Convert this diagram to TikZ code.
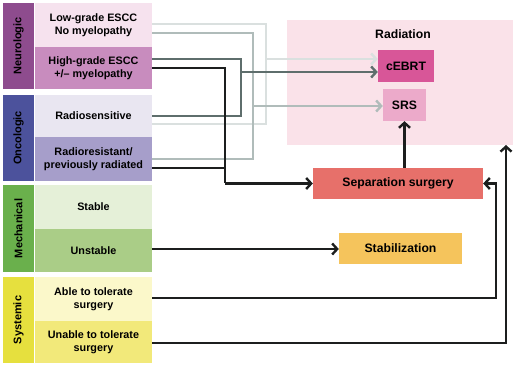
\documentclass[tikz,border=0pt]{standalone}
\usepackage{fontspec}
\setmainfont{Liberation Sans}
\usetikzlibrary{arrows.meta}
\definecolor{neuC}{RGB}{142,76,142}
\definecolor{neuA}{RGB}{246,226,238}
\definecolor{neuB}{RGB}{200,140,190}
\definecolor{oncC}{RGB}{76,82,156}
\definecolor{oncA}{RGB}{233,230,241}
\definecolor{oncB}{RGB}{166,158,202}
\definecolor{mecC}{RGB}{106,176,76}
\definecolor{mecA}{RGB}{229,240,216}
\definecolor{mecB}{RGB}{170,205,135}
\definecolor{sysC}{RGB}{230,224,62}
\definecolor{sysA}{RGB}{251,248,202}
\definecolor{sysB}{RGB}{242,233,122}
\definecolor{radBg}{RGB}{250,226,233}
\definecolor{cebC}{RGB}{216,86,152}
\definecolor{srsC}{RGB}{236,170,202}
\definecolor{sepC}{RGB}{231,112,106}
\definecolor{stbC}{RGB}{245,196,92}
\definecolor{lnLightest}{RGB}{218,224,223}
\definecolor{lnLight}{RGB}{176,188,186}
\definecolor{lnDark}{RGB}{94,110,108}
\definecolor{lnBlack}{RGB}{28,30,30}
\tikzset{
  leftbox/.style={inner sep=0pt, align=center, minimum width=117pt,
    font=\bfseries\fontsize{10.8}{13.5}\selectfont},
  catbox/.style={inner sep=0pt, rotate=90, minimum height=31pt,
    font=\bfseries\fontsize{11}{13}\selectfont},
  rbox/.style={inner sep=0pt, align=center,
    font=\bfseries\fontsize{12.2}{14}\selectfont},
  conn/.style={line width=2.4pt},
  tip/.style={-{Straight Barb[length=5pt,width=11pt]}},
}
\begin{document}
\begin{tikzpicture}[x=1pt,y=-1pt]
\useasboundingbox (0,0) rectangle (520,366);
% categories
\node[catbox, fill=neuC, minimum width=86pt] (neuro) at (18.5,46) {Neurologic};
\node[catbox, fill=oncC, minimum width=86pt] (onco) at (18.5,138) {Oncologic};
\node[catbox, fill=mecC, minimum width=87pt] (mech) at (18.5,228.5) {Mechanical};
\node[catbox, fill=sysC, minimum width=86pt] (sys) at (18.5,320) {Systemic};
% left boxes
\node[leftbox, fill=neuA, minimum height=44pt] (low) at (93.5,25) {Low-grade ESCC\\No myelopathy};
\node[leftbox, fill=neuB, minimum height=42pt] (high) at (93.5,68) {High-grade ESCC\\+/– myelopathy};
\node[leftbox, fill=oncA, minimum height=42pt] (rsens) at (93.5,116) {Radiosensitive};
\node[leftbox, fill=oncB, minimum height=44pt] (rres) at (93.5,159) {Radioresistant/\\previously radiated};
\node[leftbox, fill=mecA, minimum height=44pt] (stable) at (93.5,207) {Stable};
\node[leftbox, fill=mecB, minimum height=43pt] (unstable) at (93.5,250.5) {Unstable};
\node[leftbox, fill=sysA, minimum height=44pt] (able) at (93.5,299) {Able to tolerate\\surgery};
\node[leftbox, fill=sysB, minimum height=42pt] (unable) at (93.5,342) {Unable to tolerate\\surgery};
% right boxes
\node[fill=radBg, minimum width=226pt, minimum height=125pt, inner sep=0pt] (rad) at (400,82.5) {};
\node[rbox] (radlbl) at (403,34) {Radiation};
\node[rbox, fill=cebC, minimum width=56pt, minimum height=32pt] (cebrt) at (406,66) {cEBRT};
\node[rbox, fill=srsC, minimum width=43pt, minimum height=32pt] (srs) at (404.5,105) {SRS};
\node[rbox, fill=sepC, minimum width=170pt, minimum height=31pt] (sep) at (398,183.5) {Separation surgery};
\node[rbox, fill=stbC, minimum width=123pt, minimum height=31pt] (stab) at (400.5,248.5) {Stabilization};
% connector end points on the left boxes' right edge (x = 152)
\coordinate (sLowA) at (152,24);
\coordinate (sLowB) at (152,33);
\coordinate (sHighA) at (152,59);
\coordinate (sHighB) at (152,68);
\coordinate (sSensA) at (152,116);
\coordinate (sSensB) at (152,124);
\coordinate (sResA) at (152,159);
\coordinate (sResB) at (152,168);
\coordinate (sUns) at (152,249);
\coordinate (sAble) at (152,298);
\coordinate (sUnable) at (152,343);
% corner and junction points
\coordinate (kA1) at (266,24);
\coordinate (kA2) at (266,124);
\coordinate (jA) at (266,59);
\coordinate (kB1) at (241,59);
\coordinate (kB2) at (241,116);
\coordinate (jB) at (241,72);
\coordinate (kC1) at (253,33);
\coordinate (kC2) at (253,159);
\coordinate (jC) at (253,106);
\coordinate (kD1) at (225,68);
\coordinate (kD2) at (225,168);
\coordinate (jD) at (225,183.5);
\coordinate (kE1) at (496,298);
\coordinate (jE) at (496,183.5);
\coordinate (kF1) at (506,343);
\coordinate (jF) at (506,145);
% lightest: low-grade + radiosensitive -> cEBRT
\draw[conn, lnLightest] (sLowA) -- (kA1) -- (kA2) -- (sSensB);
\draw[conn, lnLightest, tip] (jA) -- (jA -| cebrt.west);
% light: low-grade + radioresistant -> SRS
\draw[conn, lnLight] (sLowB) -- (kC1) -- (kC2) -- (sResA);
\draw[conn, lnLight, tip] (jC) -- (jC -| srs.west);
% dark: high-grade + radiosensitive -> cEBRT
\draw[conn, lnDark] (sHighA) -- (kB1) -- (kB2) -- (sSensA);
\draw[conn, lnDark, tip] (jB) -- (jB -| cebrt.west);
% black: high-grade + radioresistant -> separation surgery
\draw[conn, lnBlack] (sHighB) -- (kD1) -- (jD);
\draw[conn, lnBlack] (sResB) -- (kD2);
\draw[conn, lnBlack, tip] (jD) -- (sep.west);
\draw[conn, lnBlack, tip] (srs.south |- sep.north) -- (srs.south);
\draw[conn, lnBlack, tip] (sUns) -- (sUns -| stab.west);
\draw[conn, lnBlack, tip] (sAble) -- (kE1) -- (jE) -- (sep.east);
\draw[conn, lnBlack, tip] (sUnable) -- (kF1) -- (jF);
\end{tikzpicture}
\end{document}
